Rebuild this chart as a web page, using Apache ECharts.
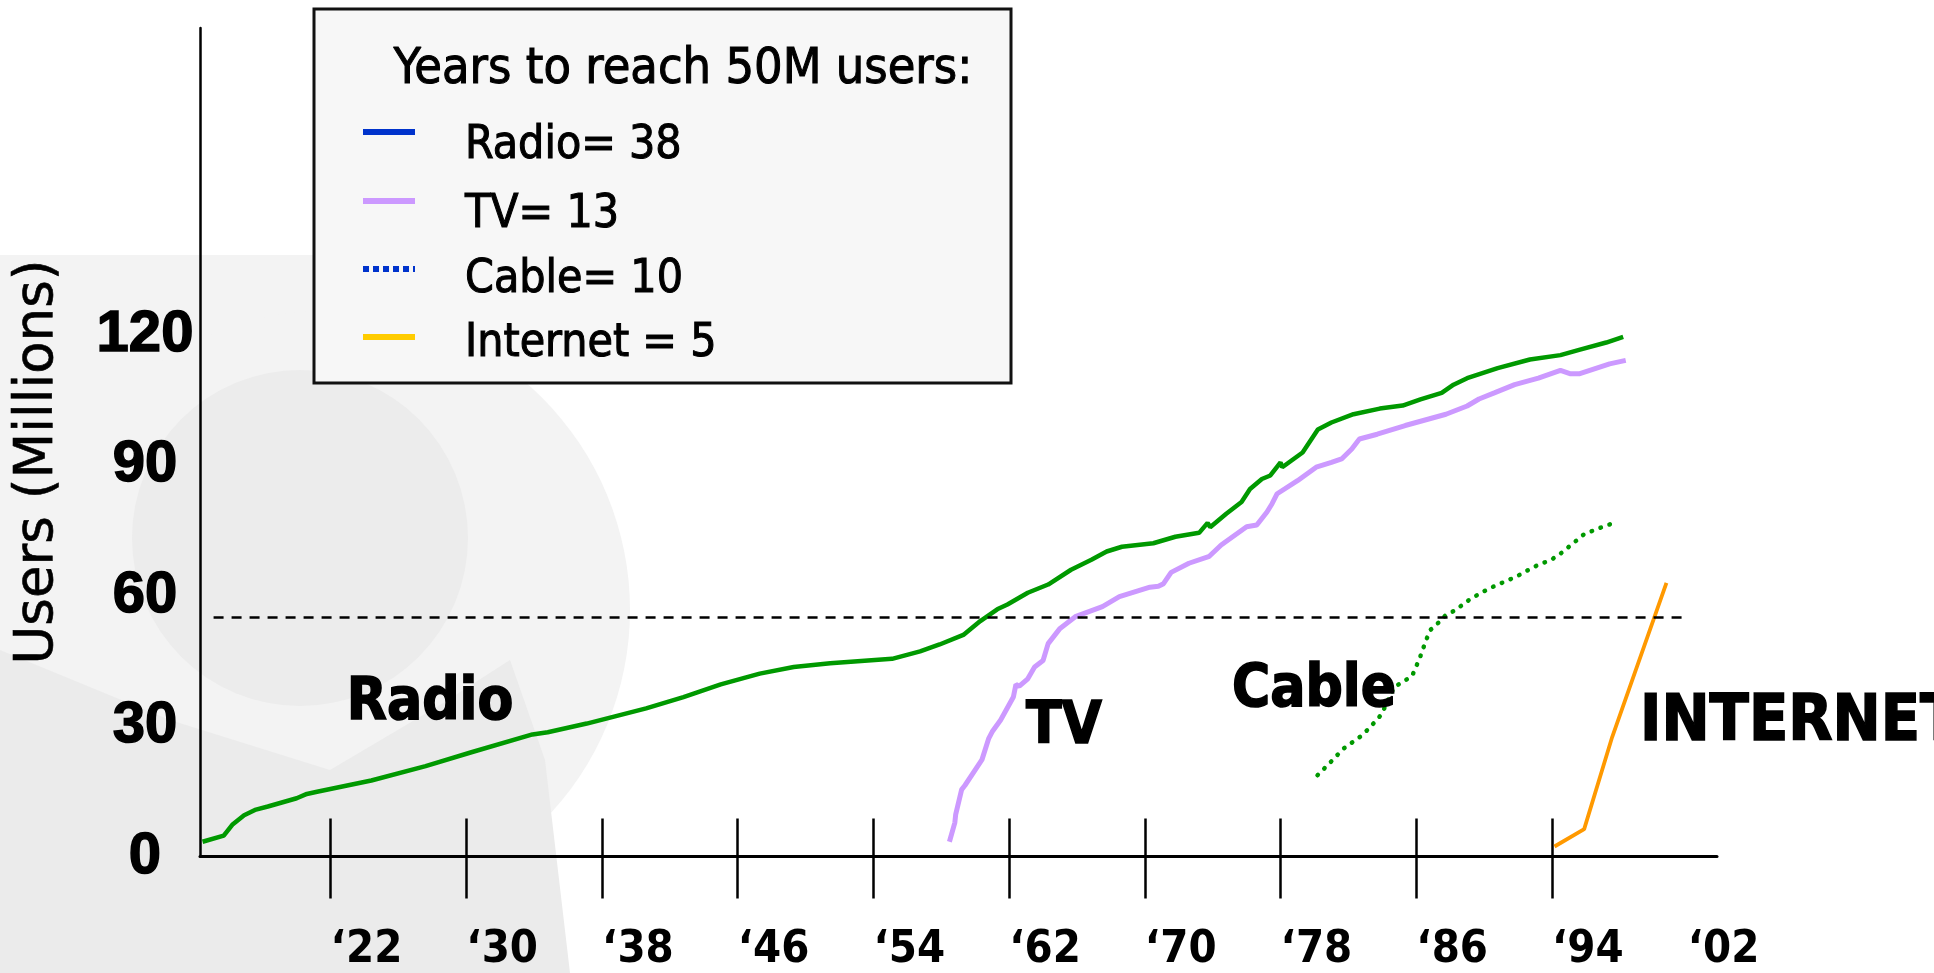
<!DOCTYPE html>
<html>
<head>
<meta charset="utf-8">
<title>Years to reach 50M users</title>
<script src="https://cdn.jsdelivr.net/npm/echarts@6/dist/echarts.min.js"></script>
<style>
	html,body{margin:0;padding:0;background:#fff;}
	#main{width:1934px;height:973px;}
</style>
</head>
<body>
<div id="main"></div>
<script>
//各媒体用户数（百万），横轴为年份
var radioYears = [1914.45,1915.7,1916.2,1916.9,1917.6,1918.3,1920.0,1920.6,1921.2,1924.4,1927.6,1930.3,1933.9,1934.8,1937.1,1940.6,1942.8,1945.0,1947.3,1949.3,1951.45,1955.1,1956.75,1957.9,1959.3,1960.3,1961.3,1961.9,1963.1,1964.3,1965.65,1966.85,1967.75,1968.65,1970.5,1971.8,1973.2,1973.7,1973.85,1974.8,1975.7,1976.2,1976.9,1977.4,1978.0,1978.1,1979.3,1980.2,1981.0,1982.3,1983.85,1985.2,1986.25,1987.5,1988.2,1989.0,1990.8,1992.7,1994.5,1995.6,1997.2,1998.2];
var radioUsers = [3.4,4.8,7.3,9.5,10.8,11.5,13.4,14.4,14.9,17.5,20.8,24.0,28.1,28.6,30.6,34.1,36.7,39.6,42.1,43.6,44.5,45.5,47.2,48.8,51.0,54.2,56.9,58.0,60.7,62.6,66.0,68.3,70.2,71.3,72.1,73.6,74.5,76.8,75.8,78.9,81.6,84.6,86.9,87.7,90.7,89.6,93.0,98.3,99.9,101.8,103.1,103.8,105.2,106.7,108.6,110.1,112.4,114.4,115.4,116.6,118.3,119.6];
var tvYears = [1958.48,1958.8,1958.85,1959.2,1959.4,1960.4,1960.8,1961.0,1961.5,1962.25,1962.4,1962.6,1963.1,1963.5,1964.0,1964.3,1965.0,1965.9,1967.5,1968.5,1970.3,1970.8,1971.1,1971.55,1972.6,1973.8,1974.5,1976.0,1976.6,1977.2,1977.5,1977.8,1979.0,1980.1,1981.0,1981.6,1982.2,1982.65,1983.7,1985.35,1987.75,1989.0,1989.7,1990.6,1991.8,1993.2,1994.5,1995.1,1995.6,1997.4,1998.35];
var tvUsers = [3.4,7.8,9.7,15.4,16.4,22.3,27.2,28.7,31.4,36.7,39.6,39.2,40.9,43.6,45.1,49.0,52.5,55.2,57.5,59.8,62.0,62.2,62.8,65.4,67.5,69.1,71.7,75.9,76.3,79.3,81.2,83.5,86.5,89.6,90.7,91.5,93.8,96.1,97.2,99.2,101.8,103.7,105.3,106.7,108.6,110.1,111.9,111.1,111.1,113.4,114.2];
var cableYears = [1980.18,1980.9,1981.7,1982.7,1983.2,1983.95,1984.7,1985.25,1985.75,1986.2,1986.6,1986.85,1987.3,1987.7,1988.3,1989.2,1990.3,1991.35,1991.9,1992.9,1994.0,1994.5,1995.0,1995.9,1997.0,1997.6];
var cableUsers = [18.7,21.5,24.8,27.6,29.4,32.7,39.0,40.3,41.5,45.6,50.0,52.2,53.8,55.4,56.7,59.3,61.7,63.5,64.4,66.6,68.4,69.7,71.3,74.2,75.9,76.7];
var netYears = [1994.15,1995.9,1997.55,2000.75];
var netUsers = [2.3,6.3,27.5,63.0];
//刻度与标签
var tickYears  = [1922,1930,1938,1946,1954,1962,1970,1978,1986,1994];
var labelYears = [1922,1930,1938,1946,1954,1962,1970,1978,1986,1994,2002];
var yLabelMax  = 120;
var fiftyLine  = 55;//50M用户虚线（按图中位置）
var fiftySpan  = [1915.1, 2001.9];
//图例与注释文字
var legendTitle  = 'Years to reach 50M users:';
var legendNames  = ['Radio= 38', 'TV= 13', 'Cable= 10', 'Internet = 5'];
var legendColors = ['#0033cc', '#cc99ff', '#0033cc', '#ffcc00'];
var noteNames    = ['Radio', 'TV', 'Cable', 'INTERNET'];

var toPairs = function(xs, ys){
	var arr = [];
	for(var i = 0; i < xs.length; i++){
		arr.push([xs[i], ys[i]]);
	}
	return arr;
};

var myChart = echarts.init(document.getElementById('main'));
var condensed = '"DejaVu Sans Condensed", "DejaVu Sans", sans-serif';

//背景水印（浅灰）
var watermark = [
	{type:'rect', z:-20, shape:{x:0, y:255, width:330, height:718}, style:{fill:'#f3f3f3'}},
	{type:'circle', z:-20, shape:{cx:330, cy:610, r:300}, style:{fill:'#f3f3f3'}},
	{type:'polygon', z:-19, shape:{points:[[0,650],[170,720],[330,770],[440,705],[510,660],[545,760],[570,973],[0,973]]}, style:{fill:'#ebebeb'}},
	{type:'circle', z:-18, shape:{cx:300, cy:538, r:168}, style:{fill:'#ececec'}}
];

//图例框
var legendBox = [
	{type:'rect', z:20, shape:{x:314, y:9, width:697, height:374}, style:{fill:'#f7f7f7', stroke:'#111', lineWidth:3}},
	{type:'text', z:21, x:683, y:70, style:{text:legendTitle, fill:'#000', stroke:'#000', lineWidth:1,
		font:'50px ' + condensed, textAlign:'center', textVerticalAlign:'middle'}}
];
var swatchRows = [132, 201, 269, 337];
var textRows   = [146.5, 215, 280, 344];
for(var k = 0; k < legendNames.length; k++){
	legendBox.push({type:'line', z:21, shape:{x1:363, y1:swatchRows[k], x2:415, y2:swatchRows[k]},
		style:{stroke:legendColors[k], lineWidth:6, lineDash:(k == 2 ? [6,4] : null)}});
	legendBox.push({type:'text', z:21, x:465, y:textRows[k],
		style:{text:legendNames[k], fill:'#000', stroke:'#000', lineWidth:1,
			font:'46px ' + condensed, textAlign:'left', textVerticalAlign:'middle'}});
}

//曲线旁的名称
var notePos = [[430,704],[1064,728],[1314,691],[1640,723]];
var notes = [];
for(var n = 0; n < noteNames.length; n++){
	notes.push({type:'text', z:15, x:notePos[n][0], y:notePos[n][1],
		style:{text:noteNames[n], fill:'#000', stroke:'#000', lineWidth:1.5,
			font:'bold ' + (n == 3 ? 64 : 58) + 'px ' + condensed,
			textAlign:(n == 3 ? 'left' : 'center'), textVerticalAlign:'middle'}});
}
//纵轴标题
notes.push({type:'text', z:15, x:38, y:462, rotation:Math.PI / 2,
	style:{text:'Users (Millions)', fill:'#000', stroke:'#000', lineWidth:0.6,
		font:'53px "DejaVu Sans", sans-serif', textAlign:'center', textVerticalAlign:'middle'}});

var option = {
	animation:false,
	backgroundColor:'#fff',
	grid:{left:200, right:217, top:28, bottom:112, containLabel:false},
	xAxis:[{
		type:'value', min:1914.3, max:2003.73,
		axisLine:{lineStyle:{color:'#000', width:3}},
		axisTick:{customValues:tickYears, length:42, lineStyle:{color:'#000', width:2.5}},
		axisLabel:{customValues:labelYears, margin:94, align:'left', verticalAlign:'middle',
			fontFamily:condensed, fontWeight:'bold', fontSize:45, color:'#000',
			formatter:function(v){ return '\u2018' + String(v % 100).padStart(2, '0'); }},
		splitLine:{show:false}
	},{
		type:'value', min:1914.3, max:2003.73, position:'bottom',
		axisLine:{show:false},
		axisTick:{customValues:tickYears, inside:true, length:38, lineStyle:{color:'#000', width:2.5}},
		axisLabel:{show:false},
		splitLine:{show:false}
	}],
	yAxis:{
		type:'value', min:0, max:190.7, interval:30,
		axisLine:{show:true, lineStyle:{color:'#000', width:2.5}},
		axisTick:{show:false},
		splitLine:{show:false},
		axisLabel:{margin:55, align:'center', verticalAlign:'middle', color:'#000',
			fontFamily:'"Liberation Sans", Arial, sans-serif', fontWeight:'bold', fontSize:58,
			textBorderColor:'#000', textBorderWidth:1.5,
			formatter:function(v){ return v <= yLabelMax ? String(v) : ''; }}
	},
	series:[
		{name:'Radio', type:'line', symbol:'none', data:toPairs(radioYears, radioUsers),
			lineStyle:{color:'#009900', width:4.5},
			markLine:{silent:true, symbol:['none','none'], label:{show:false},
				lineStyle:{color:'#000', type:[10,8], width:2.5},
				data:[[{coord:[fiftySpan[0], fiftyLine]}, {coord:[fiftySpan[1], fiftyLine]}]]}},
		{name:'TV', type:'line', symbol:'none', data:toPairs(tvYears, tvUsers),
			lineStyle:{color:'#cc99ff', width:5}},
		{name:'Cable', type:'line', symbol:'none', data:toPairs(cableYears, cableUsers),
			lineStyle:{color:'#009900', width:4.5, type:[0.5,9], cap:'round'}},
		{name:'Internet', type:'line', symbol:'none', data:toPairs(netYears, netUsers),
			lineStyle:{color:'#ff9900', width:3.8}}
	],
	graphic:watermark.concat(legendBox).concat(notes)
};
myChart.setOption(option);
</script>
</body>
</html>
